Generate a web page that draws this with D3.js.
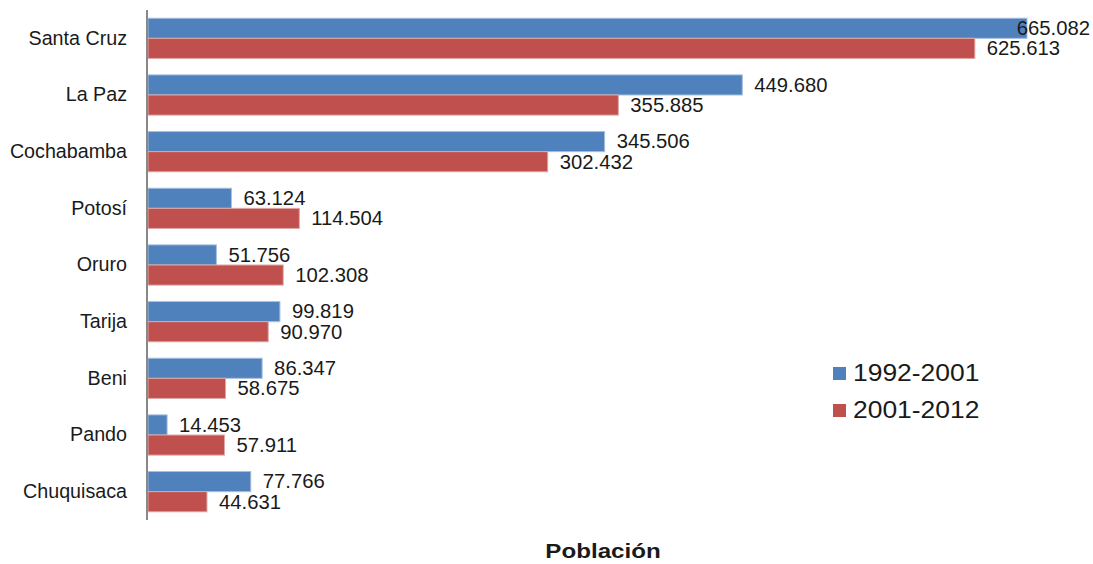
<!DOCTYPE html>
<html><head><meta charset="utf-8">
<script src="https://cdn.jsdelivr.net/npm/d3@7"></script>
<style>body{margin:0;background:#fff}svg{display:block}</style>
</head><body>
<svg id="c" width="1093" height="564"></svg>
<script>
const categories = ["Santa Cruz","La Paz","Cochabamba","Potosí","Oruro","Tarija","Beni","Pando","Chuquisaca"];
const series1992 = [665082,449680,345506,63124,51756,99819,86347,14453,77766];
const series2001 = [625613,355885,302432,114504,102308,90970,58675,57911,44631];
const seriesNames = ["1992-2001","2001-2012"];
const colors = ["#4F81BD","#C0504D"];
const strokes = ["#A7C0DE","#DFA8A6"];
const axisTitle = "Población";

const svg = d3.select("#c");
const font = "'Liberation Sans', Arial, sans-serif";
const x = d3.scaleLinear().domain([0,665082]).range([148,1027]);
const y = d3.scaleBand().domain(categories).range([10,520]).paddingInner(0.29).paddingOuter(0.145);
const ys = d3.scaleBand().domain([0,1]).range([0,y.bandwidth()]);
const fmt = d3.formatLocale({decimal:",",thousands:".",grouping:[3]}).format(",d");

function stext(parent, px, py, str, size, sx, opts={}) {
  const t = parent.append("text").attr("transform",`translate(${px},${py}) scale(${sx},1)`)
    .attr("dy","0.35em").attr("font-family",font).attr("font-size",size).attr("fill","#1a1a1a").text(str);
  if (opts.anchor) t.attr("text-anchor",opts.anchor);
  if (opts.bold) t.attr("font-weight","bold");
  return t;
}

const data = categories.map((c,i)=>({c, v:[series1992[i],series2001[i]]}));
const g = svg.append("g");
data.forEach(d=>{
  d.v.forEach((v,k)=>{
    const yy = y(d.c)+ys(k);
    g.append("rect").attr("x",x(0)).attr("y",yy).attr("width",x(v)-x(0)).attr("height",ys.bandwidth())
      .attr("fill",colors[k]).attr("stroke",strokes[k]).attr("stroke-width",1);
    const sx = 1.04;
    let lx = x(v)+12;
    const t = stext(g, lx, yy+ys.bandwidth()/2, fmt(v), 19.5, sx);
    const w = t.node().getComputedTextLength()*sx;
    if (lx+w > 1090) t.attr("transform",`translate(${1090-w},${yy+ys.bandwidth()/2}) scale(${sx},1)`);
  });
});

// y axis
const ax = svg.append("g").attr("transform","translate(147,0)")
  .call(d3.axisLeft(y).tickSize(0).tickPadding(20));
ax.select(".domain").attr("stroke","#888").attr("stroke-width",2).attr("d","M0,10V520");
ax.selectAll("text").attr("font-family",font).attr("font-size",19.7).attr("fill","#1a1a1a");

// legend
const lg = svg.append("g");
seriesNames.forEach((n,i)=>{
  const yy = 373 + i*37;
  lg.append("rect").attr("x",833).attr("y",yy-6).attr("width",13).attr("height",13).attr("fill",colors[i]);
  stext(lg, 853, yy, n, 23, 1.15);
});

stext(svg, 603, 551, axisTitle, 21, 1.15, {anchor:"middle", bold:true});
</script>
</body></html>
